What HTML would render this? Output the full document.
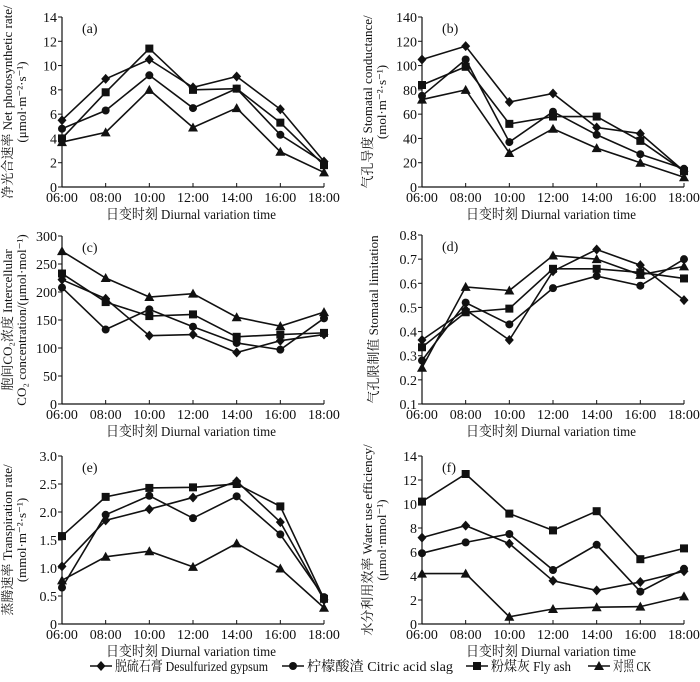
<!DOCTYPE html>
<html><head><meta charset="utf-8"><style>
body{margin:0;background:#fff}
svg text{font-family:"Liberation Serif","Noto Serif CJK SC",serif;fill:#111}
</style></head><body>
<svg id="c" width="700" height="677" viewBox="0 0 700 677"></svg>
<script>
const times=["06:00","08:00","10:00","12:00","14:00","16:00","18:00"];
const seriesNames=["脱硫石膏 Desulfurized gypsum","柠檬酸渣 Citric acid slag","粉煤灰 Fly ash","对照 CK"];
const markers=["diamond","circle","square","triangle"];
const aGyp=[5.5,8.9,10.5,8.2,9.1,6.4,2.1];
const aCit=[4.8,6.3,9.2,6.5,8.1,4.3,2.0];
const aFly=[4.0,7.8,11.4,8.0,8.1,5.3,1.8];
const aCK=[3.7,4.5,8.0,4.9,6.5,2.9,1.2];
const bGyp=[105,116,70,77,49,44,13];
const bCit=[75,105,37,62,43,27,15];
const bFly=[84,99,52,58,58,38,13];
const bCK=[72,80,28,48,32,20,8];
const cGyp=[222,188,122,124,92,113,124];
const cCit=[208,133,169,138,109,97,153];
const cFly=[233,182,157,160,120,124,127];
const cCK=[273,225,191,197,155,139,164];
const dGyp=[0.365,0.49,0.365,0.65,0.74,0.675,0.53];
const dCit=[0.28,0.52,0.43,0.58,0.63,0.59,0.70];
const dFly=[0.335,0.48,0.495,0.66,0.66,0.645,0.62];
const dCK=[0.25,0.585,0.57,0.715,0.70,0.635,0.67];
const eGyp=[1.03,1.85,2.05,2.26,2.55,1.82,0.43];
const eCit=[0.65,1.95,2.29,1.89,2.28,1.6,0.48];
const eFly=[1.57,2.27,2.43,2.44,2.5,2.1,0.45];
const eCK=[0.78,1.2,1.3,1.02,1.44,0.99,0.29];
const fGyp=[7.2,8.2,6.7,3.6,2.8,3.5,4.4];
const fCit=[5.9,6.8,7.5,4.5,6.6,2.7,4.6];
const fFly=[10.2,12.5,9.2,7.8,9.4,5.4,6.3];
const fCK=[4.2,4.2,0.6,1.25,1.4,1.45,2.3];
const aTicks=["0","2","4","6","8","10","12","14"];
const bTicks=["0","20","40","60","80","100","120","140"];
const cTicks=["0","50","100","150","200","250","300"];
const dTicks=["0.1","0.2","0.3","0.4","0.5","0.6","0.7","0.8"];
const eTicks=["0","0.5","1.0","1.5","2.0","2.5","3.0"];
const fTicks=["0","2","4","6","8","10","12","14"];

const NS="http://www.w3.org/2000/svg";
const svg=document.getElementById('c');
function mk(tag,attrs,parent){const e=document.createElementNS(NS,tag);for(const k in attrs)e.setAttribute(k,attrs[k]);(parent||svg).appendChild(e);return e;}
function marker(g,type,x,y){
  let e;
  if(type==="diamond")e=mk('path',{d:`M${x},${y-5}L${x+4.5},${y}L${x},${y+5}L${x-4.5},${y}Z`,fill:'#111'},g);
  else if(type==="circle")e=mk('circle',{cx:x,cy:y,r:4,fill:'#111'},g);
  else if(type==="square")e=mk('rect',{x:x-4,y:y-4,width:8,height:8,fill:'#111'},g);
  else e=mk('path',{d:`M${x},${y-5}L${x+5},${y+4}L${x-5},${y+4}Z`,fill:'#111'},g);
  return e;
}
const panels=[
 {id:'a',x0:62,x1:324,yTop:17,yBot:187,min:0,max:14,ticks:aTicks,data:[aGyp,aCit,aFly,aCK],l1:"净光合速率 Net photosynthetic rate/",l2:"(μmol·m⁻²·s⁻¹)"},
 {id:'b',x0:422,x1:684,yTop:17,yBot:187,min:0,max:140,ticks:bTicks,data:[bGyp,bCit,bFly,bCK],l1:"气孔导度 Stomatal conductance/",l2:"(mol·m⁻²·s⁻¹)"},
 {id:'c',x0:62,x1:324,yTop:236,yBot:404,min:0,max:300,ticks:cTicks,data:[cGyp,cCit,cFly,cCK],l1:"胞间CO₂浓度 Intercellular",l2:"CO₂ concentration/(μmol·mol⁻¹)"},
 {id:'d',x0:422,x1:684,yTop:235,yBot:404,min:0.1,max:0.8,ticks:dTicks,data:[dGyp,dCit,dFly,dCK],l1:"气孔限制值 Stomatal limitation",l2:""},
 {id:'e',x0:62,x1:324,yTop:456,yBot:624,min:0,max:3,ticks:eTicks,data:[eGyp,eCit,eFly,eCK],l1:"蒸腾速率 Transpiration rate/",l2:"(mmol·m⁻²·s⁻¹)"},
 {id:'f',x0:422,x1:684,yTop:456,yBot:624,min:0,max:14,ticks:fTicks,data:[fGyp,fCit,fFly,fCK],l1:"水分利用效率 Water use efficiency/",l2:"(μmol·mmol⁻¹)"}
];
panels.forEach(p=>{
  const g=mk('g',{});
  
  
  const xs=i=>p.x0+(p.x1-p.x0)*i/(times.length-1);
  const ys=v=>p.yBot-(v-p.min)/(p.max-p.min)*(p.yBot-p.yTop);
  mk('line',{x1:p.x0,y1:p.yTop,x2:p.x0,y2:p.yBot,stroke:'#111','stroke-width':1.2},g);
  mk('line',{x1:p.x0,y1:p.yBot,x2:p.x1,y2:p.yBot,stroke:'#111','stroke-width':1.2},g);
  p.ticks.forEach((t,i)=>{
    const y=p.yBot-i*(p.yBot-p.yTop)/(p.ticks.length-1);
    mk('line',{x1:p.x0-4,y1:y,x2:p.x0,y2:y,stroke:'#111'},g);
    const tx=mk('text',{x:p.x0-5,y:y+5,'text-anchor':'end','font-size':14},g);tx.textContent=t;
    
    
  });
  times.forEach((t,i)=>{
    const x=xs(i);
    mk('line',{x1:x,y1:p.yBot,x2:x,y2:p.yBot-4,stroke:'#111'},g);
    const tx=mk('text',{x:x,y:p.yBot+15,'text-anchor':'middle','font-size':14},g);tx.textContent=t;
    
    
  });
  const xt=mk('text',{x:(p.x0+p.x1)/2-2,y:p.yBot+32,'text-anchor':'middle','font-size':14,textLength:170,lengthAdjust:'spacingAndGlyphs'},g);
  xt.textContent="日变时刻 Diurnal variation time";
  
  
  const pl=mk('text',{x:p.x0+20,y:p.yTop+16,'font-size':14},g);pl.textContent="("+p.id+")";
  
  
  const cy=(p.yTop+p.yBot)/2;
  const lx1=p.l2?p.x0-50:p.x0-44;
  const t1=mk('text',{x:lx1,y:cy,'text-anchor':'middle','font-size':13,transform:`rotate(-90 ${lx1} ${cy})`},g);t1.textContent=p.l1;
  
  
  if(p.l2){const lx2=p.x0-36;const t2=mk('text',{x:lx2,y:cy,'text-anchor':'middle','font-size':13,transform:`rotate(-90 ${lx2} ${cy})`},g);t2.textContent=p.l2;
    
    }
  p.data.forEach((arr,si)=>{
    const sg=mk('g',{},g);
    
    
    const ln=mk('polyline',{points:arr.map((v,i)=>xs(i)+','+ys(v)).join(' '),fill:'none',stroke:'#111','stroke-width':1.6},sg);
    
    
    arr.forEach((v,i)=>{const m=marker(sg,markers[si],xs(i),ys(v));
      
      });
  });
});
const legX=[90,282,466,588];
const legW=[153,146,80,38];
const lg=mk('g',{});


seriesNames.forEach((n,i)=>{
  const eg=mk('g',{},lg);
  
  
  mk('line',{x1:legX[i],y1:666,x2:legX[i]+22,y2:666,stroke:'#111','stroke-width':1.6},eg);
  marker(eg,markers[i],legX[i]+11,666);
  const t=mk('text',{x:legX[i]+25,y:671,'font-size':14,textLength:legW[i],lengthAdjust:'spacingAndGlyphs'},eg);t.textContent=n;
});
</script>
</body></html>
